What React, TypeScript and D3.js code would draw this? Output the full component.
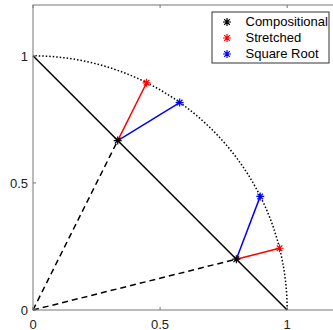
import React from "react";
import * as d3 from "d3";

// points on the simplex and their two projections onto the unit circle
const compositional = [
  { x: 1 / 3, y: 2 / 3 },
  { x: 0.8, y: 0.2 },
];
const stretched = [
  { x: 0.447, y: 0.894 },
  { x: 0.970, y: 0.243 },
];
const squareRoot = [
  { x: 0.577, y: 0.816 },
  { x: 0.894, y: 0.447 },
];
const ticks = [0, 0.5, 1];
const arcAngles = d3.range(0, 91, 1);
const legendItems = [
  { label: "Compositional", color: "#000" },
  { label: "Stretched", color: "#f00" },
  { label: "Square Root", color: "#00f" },
];

const W = 333;
const H = 330;
const margin = { left: 33, top: 5, bottom: 20 };
const font = "Helvetica, Arial, 'Liberation Sans', sans-serif";

function Star({ x, y, color, r = 4 }: { x: number; y: number; color: string; r?: number }) {
  const d = [0, 45, 90, 135]
    .map((a) => {
      const t = (a * Math.PI) / 180;
      const dx = r * Math.cos(t), dy = r * Math.sin(t);
      return `M${x - dx},${y - dy}L${x + dx},${y + dy}`;
    })
    .join("");
  return <path d={d} stroke={color} strokeWidth={1.2} fill="none" />;
}

export default function App() {
  const unit = H - margin.bottom - margin.top;
  const xScale = d3.scaleLinear().domain([0, 1.2]).range([margin.left, margin.left + unit]);
  const yScale = d3.scaleLinear().domain([0, 1.2]).range([H - margin.bottom, margin.top]);

  const lineGen = d3
    .line<{ x: number; y: number }>()
    .x((d) => xScale(d.x))
    .y((d) => yScale(d.y));

  const arc = arcAngles.map((a) => ({
    x: Math.cos((a * Math.PI) / 180),
    y: Math.sin((a * Math.PI) / 180),
  }));
  const origin = { x: 0, y: 0 };
  const axisColor = "#777";

  return (
    <svg width={W} height={H} style={{ position: "absolute", left: 0, top: 0 }}>
      <rect width={W} height={H} fill="#fff" />
      {/* dotted quarter circle */}
      <path d={lineGen(arc) || ""} fill="none" stroke="#000" strokeWidth={1.5} strokeDasharray="1.5 2" />
      {/* simplex line */}
      <path d={lineGen([{ x: 0, y: 1 }, { x: 1, y: 0 }]) || ""} stroke="#000" strokeWidth={1.5} fill="none" />
      {/* dashed rays */}
      {compositional.map((p, i) => (
        <path key={"ray" + i} d={lineGen([origin, p]) || ""} stroke="#000" strokeWidth={1.5} strokeDasharray="6 4" fill="none" />
      ))}
      {compositional.map((p, i) => (
        <g key={"seg" + i}>
          <path d={lineGen([p, stretched[i]]) || ""} stroke="#f00" strokeWidth={1.5} fill="none" />
          <path d={lineGen([p, squareRoot[i]]) || ""} stroke="#00f" strokeWidth={1.5} fill="none" />
        </g>
      ))}
      {compositional.map((p, i) => (
        <Star key={"c" + i} x={xScale(p.x)} y={yScale(p.y)} color="#000" />
      ))}
      {stretched.map((p, i) => (
        <Star key={"s" + i} x={xScale(p.x)} y={yScale(p.y)} color="#f00" />
      ))}
      {squareRoot.map((p, i) => (
        <Star key={"q" + i} x={xScale(p.x)} y={yScale(p.y)} color="#00f" />
      ))}

      {/* axes box */}
      <rect
        x={xScale(0)}
        y={yScale(1.2)}
        width={xScale(1.2) - xScale(0)}
        height={yScale(0) - yScale(1.2)}
        fill="none"
        stroke={axisColor}
        strokeWidth={1}
      />
      {ticks.map((t) => (
        <g key={"xt" + t}>
          <line x1={xScale(t)} x2={xScale(t)} y1={yScale(0)} y2={yScale(0) - 3} stroke={axisColor} />
          <line x1={xScale(t)} x2={xScale(t)} y1={yScale(1.2)} y2={yScale(1.2) + 3} stroke={axisColor} />
          <text x={xScale(t)} y={yScale(0) + 18.5} textAnchor="middle" fontSize={13} fontFamily={font} fill="#222">
            {t}
          </text>
        </g>
      ))}
      {ticks.map((t) => (
        <g key={"yt" + t}>
          <line x1={xScale(0)} x2={xScale(0) + 3} y1={yScale(t)} y2={yScale(t)} stroke={axisColor} />
          <text x={xScale(0) - 5} y={yScale(t) + 5} textAnchor="end" fontSize={13} fontFamily={font} fill="#222">
            {t}
          </text>
        </g>
      ))}

      {/* legend */}
      <g>
        <rect x={212} y={12} width={117} height={51} fill="#fff" stroke="#333" strokeWidth={1} />
        {legendItems.map((it, i) => (
          <g key={it.label}>
            <Star x={227} y={22 + i * 16} color={it.color} />
            <text x={245.5} y={26 + i * 16} fontSize={13} fontFamily={font} fill="#000">
              {it.label}
            </text>
          </g>
        ))}
      </g>
    </svg>
  );
}
